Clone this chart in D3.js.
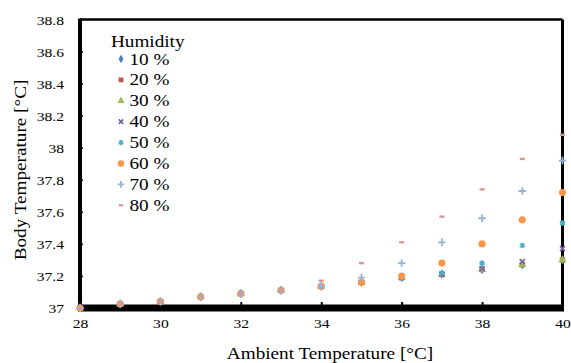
<!DOCTYPE html>
<html>
<head>
<meta charset="utf-8">
<script src="https://cdn.jsdelivr.net/npm/d3@7"></script>
<style>
  body { margin: 0; background: #fff; }
  svg text { font-family: "Liberation Serif", "Times New Roman", Tinos, "DejaVu Serif", serif !important; fill: #000; }
</style>
</head>
<body>
<svg id="chart" width="571" height="363"></svg>
<script>
// ambient temperature (x) and body temperature per humidity level
const temps = [28, 29, 30, 31, 32, 33, 34, 35, 36, 37, 38, 39, 40];
const h10 = [37.00, 37.025, 37.04, 37.07, 37.09, 37.11, 37.135, 37.16, 37.19, 37.21, 37.24, 37.27, 37.30];
const h20 = [37.00, 37.025, 37.04, 37.07, 37.09, 37.11, 37.135, 37.16, 37.19, 37.21, 37.24, 37.27, 37.30];
const h30 = [37.00, 37.025, 37.04, 37.07, 37.09, 37.11, 37.135, 37.16, 37.19, 37.21, 37.24, 37.27, 37.30];
const h40 = [37.00, 37.025, 37.04, 37.07, 37.09, 37.11, 37.135, 37.16, 37.19, 37.21, 37.245, 37.29, 37.37];
const h50 = [37.00, 37.025, 37.04, 37.07, 37.09, 37.11, 37.135, 37.16, 37.19, 37.22, 37.28, 37.39, 37.53];
const h60 = [37.00, 37.025, 37.04, 37.07, 37.09, 37.11, 37.135, 37.16, 37.20, 37.28, 37.40, 37.55, 37.72];
const h70 = [37.00, 37.025, 37.04, 37.07, 37.09, 37.11, 37.14, 37.19, 37.28, 37.41, 37.56, 37.73, 37.92];
const h80 = [37.00, 37.025, 37.04, 37.07, 37.09, 37.11, 37.17, 37.28, 37.41, 37.57, 37.74, 37.93, 38.08];

const seriesNames = ["10 %", "20 %", "30 %", "40 %", "50 %", "60 %", "70 %", "80 %"];
const seriesValues = [h10, h20, h30, h40, h50, h60, h70, h80];
const xTicks = [28, 30, 32, 34, 36, 38, 40];
const yTicks = [37, 37.2, 37.4, 37.6, 37.8, 38, 38.2, 38.4, 38.6, 38.8];

// marker styles per series (Excel-ish)
const markers = [
  { type: d3.symbolDiamond, size: 26, fill: "#4f81bd" },
  { type: d3.symbolSquare, size: 28, fill: "#c0504d" },
  { type: d3.symbolTriangle, size: 28, fill: "#9bbb59" },
  { type: d3.symbolTimes, size: 18, stroke: "#8064a2" },
  { type: d3.symbolAsterisk, size: 22, stroke: "#4bacc6" },
  { type: d3.symbolCircle, size: 40, fill: "#f79646" },
  { type: d3.symbolPlus, size: 20, stroke: "#95b3d7" },
  { type: "dash", fill: "#d99694" }
];

const SX = 1.2; // the reference text looks stretched sideways
const FONT = "'Liberation Serif', 'Times New Roman', 'DejaVu Serif', serif";

const svg = d3.select("#chart");

const x = d3.scaleLinear().domain([28, 40]).range([80, 562.5]);
const y = d3.scaleLinear().domain([37, 38.8]).range([308, 19.5]);

// y axis ticks + labels
const yAxis = svg.append("g")
  .attr("transform", "translate(" + x(28) + ",0)")
  .attr("font-family", FONT)
  .call(d3.axisLeft(y).tickValues(yTicks).tickSize(-3).tickFormat(d3.format("~g")));
yAxis.attr("font-family", FONT);
yAxis.select(".domain").remove();
yAxis.selectAll("line").attr("stroke", "#000").attr("stroke-width", 1.5);
yAxis.selectAll("text")
  .attr("x", -16 / SX)
  .attr("dy", "0.38em")
  .attr("transform", "scale(" + SX + ",1)")
  .style("font-size", "13px");

// x axis ticks + labels
const xAxis = svg.append("g")
  .attr("transform", "translate(0," + y(37) + ")")
  .call(d3.axisBottom(x).tickValues(xTicks).tickSize(-6).tickFormat(d3.format("d")));
xAxis.attr("font-family", FONT);
xAxis.select(".domain").remove();
xAxis.selectAll("line").attr("stroke", "#000").attr("stroke-width", 2);
xAxis.selectAll(".tick text")
  .attr("y", 20.5)
  .attr("dy", 0)
  .attr("x", 0)
  .attr("transform", "scale(" + SX + ",1)")
  .style("font-size", "13px");

// frame
svg.append("line").attr("x1", x(28)).attr("x2", x(40)).attr("y1", y(38.8)).attr("y2", y(38.8))
  .attr("stroke", "#000").attr("stroke-width", 2.5);
svg.append("line").attr("x1", x(40)).attr("x2", x(40)).attr("y1", y(38.8)).attr("y2", y(37))
  .attr("stroke", "#000").attr("stroke-width", 3);
svg.append("line").attr("x1", x(28)).attr("x2", x(28)).attr("y1", y(38.8) - 1).attr("y2", y(37))
  .attr("stroke", "#000").attr("stroke-width", 4);
svg.append("line").attr("x1", x(28) - 2).attr("x2", x(40) + 1.5).attr("y1", y(37)).attr("y2", y(37))
  .attr("stroke", "#000").attr("stroke-width", 7);

function drawMarker(g, m, cx, cy, scale) {
  const k = scale || 1;
  if (m.type === "dash") {
    g.append("rect")
      .attr("x", cx - 2.5 * k).attr("y", cy - 1.2 * k)
      .attr("width", 5 * k).attr("height", 2.4 * k)
      .attr("fill", m.fill);
    return;
  }
  const p = g.append("path")
    .attr("d", d3.symbol().type(m.type).size(m.size * k * k)())
    .attr("transform", "translate(" + cx + "," + cy + ")");
  if (m.fill) {
    p.attr("fill", m.fill);
  } else {
    p.attr("fill", "none").attr("stroke", m.stroke).attr("stroke-width", 1.8);
  }
}

// data points
const pts = svg.append("g");
seriesValues.forEach((vals, i) => {
  const g = pts.append("g");
  temps.forEach((t, j) => {
    drawMarker(g, markers[i], x(t), y(vals[j]));
  });
});

// legend
const leg = svg.append("g").attr("font-family", FONT);
leg.append("text")
  .attr("transform", "translate(111,47) scale(" + SX + ",1)")
  .style("font-size", "16px")
  .text("Humidity");
seriesNames.forEach((name, i) => {
  const cy = 59 + i * 20.9;
  drawMarker(leg, markers[i], 121, cy, 0.9);
  leg.append("text")
    .attr("transform", "translate(129.5," + (cy + 5.5) + ") scale(" + SX + ",1)")
    .style("font-size", "16px")
    .text(name);
});

// axis titles
svg.append("text")
  .attr("transform", "translate(330,359) scale(" + SX + ",1)")
  .attr("text-anchor", "middle")
  .attr("font-family", FONT)
  .style("font-size", "16px")
  .text("Ambient Temperature [°C]");

svg.append("text")
  .attr("transform", "translate(26,170) rotate(-90) scale(" + SX + ",1)")
  .attr("text-anchor", "middle")
  .attr("font-family", FONT)
  .style("font-size", "16px")
  .text("Body Temperature [°C]");
</script>
</body>
</html>
